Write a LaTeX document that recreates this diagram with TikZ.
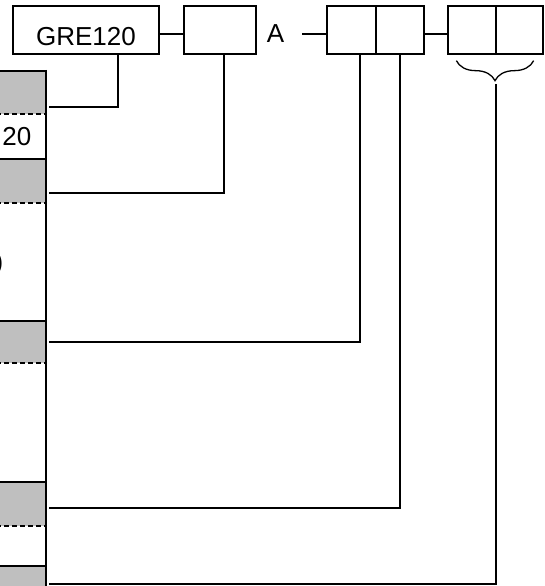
\documentclass[tikz,border=0pt]{standalone}
\usepackage{fontspec}
\setmainfont{Liberation Sans}
\usetikzlibrary{decorations.pathreplacing}
\begin{document}
\begin{tikzpicture}[x=1pt,y=-1pt,codefont/.style={font=\fontsize{26}{30}\selectfont},codebox/.style={draw=black,line width=1.3pt,fill=white,inner sep=0pt,minimum height=48pt,text height=40pt,text depth=8pt,codefont},cellbox/.style={codebox,minimum width=48pt},link/.style={draw=black,line width=1.3pt},graycell/.style={fill=black!25},rowline/.style={draw=black,line width=2pt},rowdash/.style={rowline,dash pattern=on 5pt off 3pt}]
\useasboundingbox (0,0) rectangle (544,586);
% code boxes along the top
\node[codebox,minimum width=146pt] (gre) at (86,30) {GRE120};
\node[codebox,minimum width=72pt] (opt) at (220,30) {};
\node[codefont,anchor=base,inner sep=0pt] (lettera) at (275.5,43) {A};
\node[cellbox,minimum width=49pt] (ca) at (351.5,30) {};
\node[cellbox] (cb) at (400,30) {};
\node[cellbox] (da) at (472,30) {};
\node[cellbox,minimum width=47pt] (db) at (519.5,30) {};
\coordinate (astub) at (302,34);
\draw[link] ([yshift=-4pt]gre.east) -- ([yshift=-4pt]opt.west);\draw[link] (astub) -- (astub -| ca.west);\draw[link] ([yshift=-4pt]cb.east) -- ([yshift=-4pt]da.west);
\draw[link,decorate,decoration={brace,mirror,amplitude=20pt}] ([xshift=9pt,yshift=-6pt]da.south west) -- ([xshift=-10pt,yshift=-6pt]db.south east);
\coordinate (bracetip) at (496,84);
% table column on the left
\foreach \rtop/\rbot in {71/114,159/203,321/363,482/526,566/600} {\fill[graycell] (-20,\rtop) rectangle (46,\rbot); \draw[rowline] (-20,\rtop) -- (46,\rtop); \draw[rowdash] (-20,\rbot) -- (45,\rbot);}
\draw[line width=2.3pt] (46,70) -- (46,600);
\node[codefont,anchor=base east,inner sep=0pt] (rowgre) at (31.5,145) {20};
\node[codefont,anchor=base east,inner sep=0pt] (rowparen) at (3.5,270) {)};
% free ends at the table
\coordinate (e1) at (49,107);\coordinate (e2) at (49,193);\coordinate (e3) at (49,342);\coordinate (e4) at (49,508);\coordinate (e5) at (49,584);
\draw[link] ([xshift=32pt]gre.south) |- (e1);\draw[link] ([xshift=4pt]opt.south) |- (e2);\draw[link] ([xshift=8.5pt]ca.south) |- (e3);\draw[link] (cb.south) |- (e4);\draw[link] (bracetip) |- (e5);
\end{tikzpicture}
\end{document}
